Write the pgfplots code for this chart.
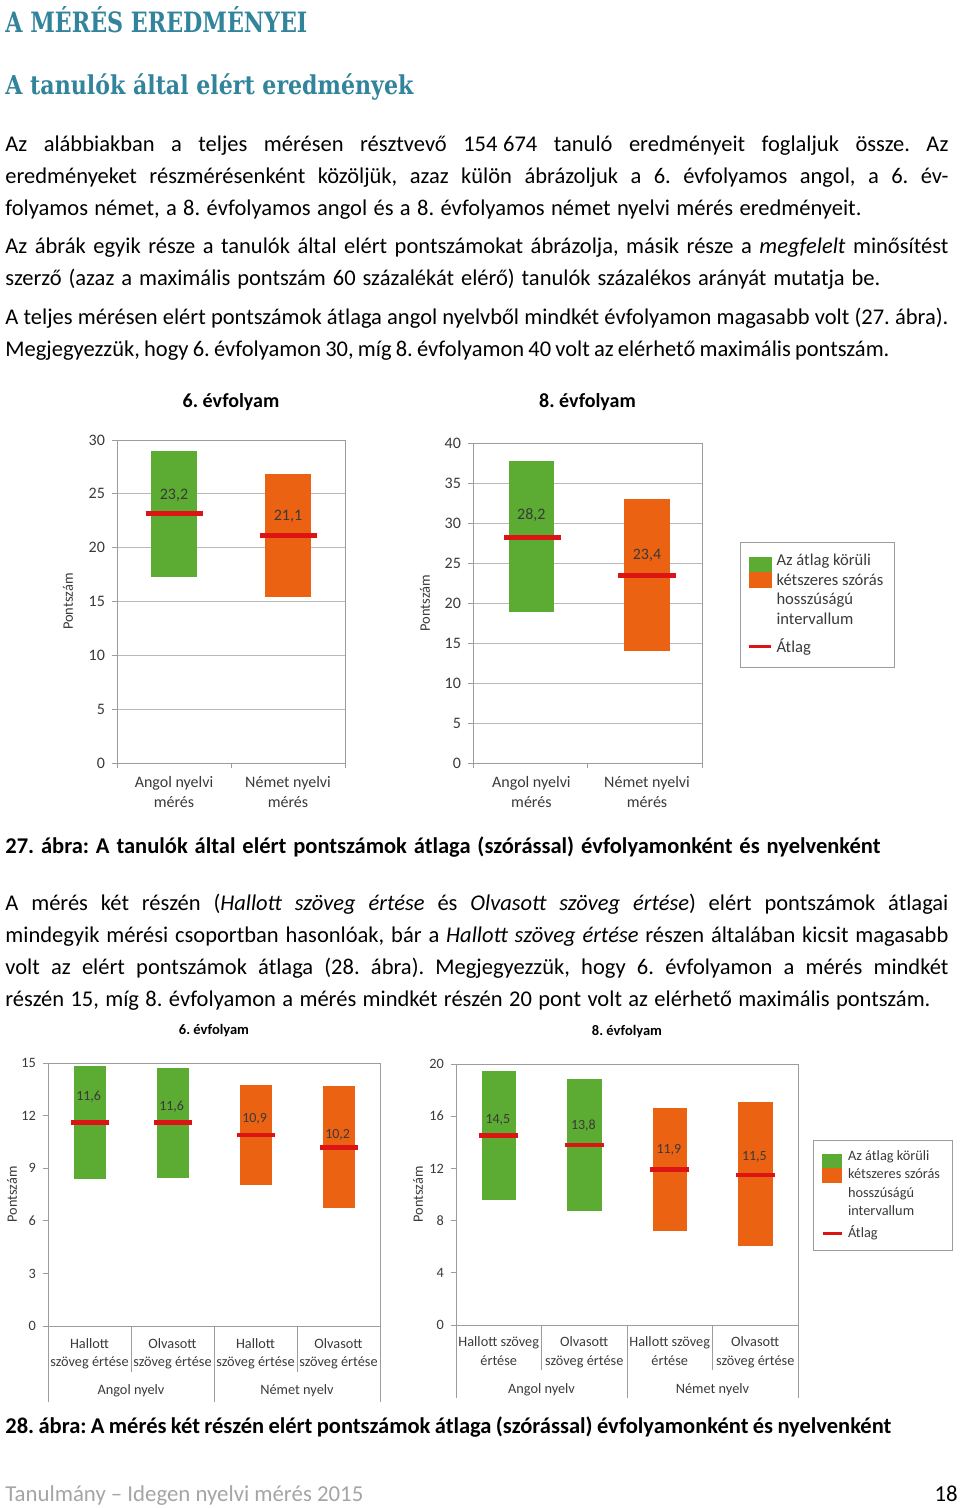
\documentclass[border=0pt]{standalone}
\usepackage{fontspec}
\setmainfont{Carlito}
\newfontfamily\headfont{DejaVu Serif}
\usepackage{graphicx}
\usepackage{pgfplots}
\pgfplotsset{compat=1.18}

\definecolor{barG}{HTML}{5CAB32}
\definecolor{barO}{HTML}{EB6212}
\definecolor{meanR}{HTML}{DD1414}
\definecolor{gridC}{HTML}{B9B9B9}
\definecolor{axisC}{HTML}{9C9C9C}
\definecolor{headC}{HTML}{31849B}
\definecolor{txt}{HTML}{3A3A3A}
\definecolor{footC}{HTML}{A5A5A5}

% sizes are given in pixels of the page (1px = 0.5pt)
\newcommand\fpx[1]{\fontsize{\fpeval{0.5*#1}}{\fpeval{0.6*#1}}\selectfont}
\newcommand\fpxb[2]{\fontsize{\fpeval{0.5*#1}}{\fpeval{0.5*#2}}\selectfont}

% one line of body text, spread to a given width (in px)
\newcommand\tline[4][]{\node[anchor=base west,inner sep=0pt,font=\fpx{22.5}#1] at (5,#2) {\makebox[\fpeval{0.5*#3}pt][s]{#4}};}
\newcommand\jline[2]{\tline{#1}{943}{#2}}

\tikzset{
  catlab/.style={font=#1, text=txt, align=center, anchor=north, inner sep=0pt},
  sep/.style={draw=axisC, line width=0.5pt},
}

\pgfplotsset{
  chart/.style={
    scale only axis, anchor=south west, clip=false,
    xmin=0, ymin=0,
    axis line style={draw=axisC, line width=0.5pt},
    grid style={draw=gridC, line width=0.5pt},
    tick align=outside, tick pos=left,
    major tick length=2.5pt,
    tick style={draw=axisC, line width=0.5pt},
    /pgf/number format/assume math mode=true,
    tick label style={text=txt},
    every axis title shift=0pt,
    title style={anchor=center},
    ylabel style={anchor=center, text=txt},
  },
  bar/.style={draw=none, fill=#1, forget plot},
  mean/.style={meanR, line width=2.4pt, forget plot},
  vals/.style={draw=none, forget plot, nodes near coords, point meta=explicit symbolic,
    every node near coord/.append style={anchor=center, text=txt, font=#1}},
}

\begin{document}
\frenchspacing
\begin{tikzpicture}
\fill[white] (0pt,0pt) rectangle (480pt,-754pt);

\begin{scope}[x=0.5pt,y=-0.5pt]
\node[anchor=base west,inner sep=0pt,text=headC] at (5,33)
  {\resizebox{151pt}{\height}{\headfont\bfseries\fpx{28}A MÉRÉS EREDMÉNYEI}};
\node[anchor=base west,inner sep=0pt,text=headC] at (5,95)
  {\resizebox{204pt}{\height}{\headfont\bfseries\fpx{26}A tanulók által elért eredmények}};

\jline{152}{Az alábbiakban a teljes mérésen résztvevő 154\kern0.25em674 tanuló eredményeit foglaljuk össze. Az}
\jline{184}{eredményeket részmérésenként közöljük, azaz külön ábrázoljuk a 6. évfolyamos angol, a 6. év-}
\tline{216}{856}{folyamos német, a 8. évfolyamos angol és a 8. évfolyamos német nyelvi mérés eredményeit.}
\jline{254}{Az ábrák egyik része a tanulók által elért pontszámokat ábrázolja, másik része a \textit{megfelelt} minősítést}
\tline{286}{875}{szerző (azaz a maximális pontszám 60 százalékát elérő) tanulók százalékos arányát mutatja be.}
\jline{325}{A teljes mérésen elért pontszámok átlaga angol nyelvből mindkét évfolyamon magasabb volt (27. ábra).}
\tline{357}{884}{Megjegyezzük, hogy 6. évfolyamon 30, míg 8. évfolyamon 40 volt az elérhető maximális pontszám.}

\tline[\bfseries]{853}{875}{27. ábra: A tanulók által elért pontszámok átlaga (szórással) évfolyamonként és nyelvenként}

\jline{910}{A mérés két részén (\textit{Hallott szöveg értése} és \textit{Olvasott szöveg értése}) elért pontszámok átlagai}
\jline{942}{mindegyik mérési csoportban hasonlóak, bár a \textit{Hallott szöveg értése} részen általában kicsit magasabb}
\jline{974}{volt az elért pontszámok átlaga (28. ábra). Megjegyezzük, hogy 6. évfolyamon a mérés mindkét}
\tline{1006}{925}{részén 15, míg 8. évfolyamon a mérés mindkét részén 20 pont volt az elérhető maximális pontszám.}

\tline[\bfseries]{1433}{886}{28. ábra: A mérés két részén elért pontszámok átlaga (szórással) évfolyamonként és nyelvenként}

\node[anchor=base west,inner sep=0pt,font=\fpx{22.8},text=footC] at (5,1501) {Tanulmány – Idegen nyelvi mérés 2015};
\node[anchor=base east,inner sep=0pt,font=\fpx{22.8}] at (958,1501) {18};
\end{scope}

% ---- 27. ábra, 6. évfolyam
\begin{axis}[chart, at={(58.5pt,-381.5pt)}, width=114pt, height=161.5pt,
  xmax=2, ymax=30, ytick={0,5,...,30}, xtick={0,1,2}, xticklabels={},
  ymajorgrids,
  yticklabel style={font=\fpx{16}},
  title={6. évfolyam}, title style={font=\fpx{20}\bfseries, at={(axis description cs:0.5,1.118)}},
  ylabel={Pontszám}, ylabel style={font=\fpx{14.5}, at={(axis description cs:-0.215,0.5)}}]
\addplot[bar=barG] coordinates {(0.3,17.3) (0.7,17.3) (0.7,29.0) (0.3,29.0)};
\addplot[bar=barO] coordinates {(1.3,15.4) (1.7,15.4) (1.7,26.8) (1.3,26.8)};
\addplot[mean] coordinates {(0.25,23.2) (0.75,23.2)};
\addplot[mean] coordinates {(1.25,21.1) (1.75,21.1)};
\addplot[vals={\fpx{16}}] coordinates {(0.5,24.9) [23,2] (1.5,22.95) [21,1]};
\node[catlab={\fpxb{16}{20}}] at ([yshift=-6.25pt]axis cs:0.5,0) {Angol nyelvi\\mérés};
\node[catlab={\fpxb{16}{20}}] at ([yshift=-6.25pt]axis cs:1.5,0) {Német nyelvi\\mérés};
\end{axis}

% ---- 27. ábra, 8. évfolyam
\begin{axis}[chart, at={(236.5pt,-381.5pt)}, width=114.5pt, height=160pt,
  xmax=2, ymax=40, ytick={0,5,...,40}, xtick={0,1,2}, xticklabels={},
  ymajorgrids,
  yticklabel style={font=\fpx{16}},
  title={8. évfolyam}, title style={font=\fpx{20}\bfseries, at={(axis description cs:0.5,1.128)}},
  ylabel={Pontszám}, ylabel style={font=\fpx{14.5}, at={(axis description cs:-0.21,0.5)}},
  legend style={at={(axis description cs:1.166,0.691)}, anchor=north west,
    draw=axisC, line width=0.5pt, fill=white, font=\fpxb{16.6}{19.5}, text=txt,
    inner xsep=3.5pt, inner ysep=4pt, row sep=1.5pt, column sep=0pt,
    cells={anchor=west, align=left, inner sep=0pt}}]
\addlegendimage{legend image code/.code={
  \fill[barG] (0pt,9pt) rectangle (11pt,16.5pt);
  \fill[barO] (0pt,1.5pt) rectangle (11pt,9pt);}}
\addlegendentry{Az átlag körüli\\kétszeres szórás\\hosszúságú\\intervallum}
\addlegendimage{legend image code/.code={\draw[meanR, line width=1.5pt] (0pt,0pt) -- (11pt,0pt);}}
\addlegendentry{Átlag}
\addplot[bar=barG] coordinates {(0.31,18.9) (0.71,18.9) (0.71,37.7) (0.31,37.7)};
\addplot[bar=barO] coordinates {(1.32,14.0) (1.72,14.0) (1.72,33.0) (1.32,33.0)};
\addplot[mean] coordinates {(0.27,28.2) (0.77,28.2)};
\addplot[mean] coordinates {(1.27,23.4) (1.77,23.4)};
\addplot[vals={\fpx{16}}] coordinates {(0.51,30.95) [28,2] (1.52,25.9) [23,4]};
\node[catlab={\fpxb{16}{20}}] at ([yshift=-6.25pt]axis cs:0.51,0) {Angol nyelvi\\mérés};
\node[catlab={\fpxb{16}{20}}] at ([yshift=-6.25pt]axis cs:1.52,0) {Német nyelvi\\mérés};
\end{axis}

% ---- 28. ábra, 6. évfolyam
\begin{axis}[chart, at={(24pt,-663pt)}, width=166pt, height=131.5pt,
  xmax=4, ymax=15, ytick={0,3,...,15}, xtick=\empty,
  yticklabel style={font=\fpx{14.3}},
  title={6. évfolyam}, title style={font=\fpx{14.5}\bfseries, at={(axis description cs:0.5,1.125)}},
  ylabel={Pontszám}, ylabel style={font=\fpx{14.3}, at={(axis description cs:-0.108,0.5)}}]
\addplot[bar=barG] coordinates {(0.31,8.40) (0.70,8.40) (0.70,14.81) (0.31,14.81)};
\addplot[bar=barG] coordinates {(1.31,8.42) (1.70,8.42) (1.70,14.73) (1.31,14.73)};
\addplot[bar=barO] coordinates {(2.31,8.06) (2.70,8.06) (2.70,13.73) (2.31,13.73)};
\addplot[bar=barO] coordinates {(3.31,6.75) (3.70,6.75) (3.70,13.67) (3.31,13.67)};
\addplot[mean] coordinates {(0.28,11.6) (0.73,11.6)};
\addplot[mean] coordinates {(1.28,11.6) (1.73,11.6)};
\addplot[mean] coordinates {(2.28,10.9) (2.73,10.9)};
\addplot[mean] coordinates {(3.28,10.2) (3.73,10.2)};
\addplot[vals={\fpx{14}}] coordinates {(0.49,13.06) [11,6] (1.49,12.49) [11,6] (2.49,11.79) [10,9] (3.49,10.91) [10,2]};
\draw[sep] (axis cs:1,0) -- ++(0pt,-23pt);
\draw[sep] (axis cs:3,0) -- ++(0pt,-23pt);
\draw[sep] (axis cs:0,0) -- ++(0pt,-38pt);
\draw[sep] (axis cs:2,0) -- ++(0pt,-38pt);
\draw[sep] (axis cs:4,0) -- ++(0pt,-38pt);
\node[catlab={\fpxb{14.3}{18}}] at ([yshift=-6.2pt]axis cs:0.5,0) {Hallott\\szöveg értése};
\node[catlab={\fpxb{14.3}{18}}] at ([yshift=-6.2pt]axis cs:1.5,0) {Olvasott\\szöveg értése};
\node[catlab={\fpxb{14.3}{18}}] at ([yshift=-6.2pt]axis cs:2.5,0) {Hallott\\szöveg értése};
\node[catlab={\fpxb{14.3}{18}}] at ([yshift=-6.2pt]axis cs:3.5,0) {Olvasott\\szöveg értése};
\node[font=\fpx{14.3}, text=txt, inner sep=0pt] at ([yshift=-32.5pt]axis cs:1,0) {Angol nyelv};
\node[font=\fpx{14.3}, text=txt, inner sep=0pt] at ([yshift=-32.5pt]axis cs:3,0) {Német nyelv};
\end{axis}

% ---- 28. ábra, 8. évfolyam
\begin{axis}[chart, at={(228pt,-662.5pt)}, width=171pt, height=130.5pt,
  xmax=4, ymax=20, ytick={0,4,...,20}, xtick=\empty,
  yticklabel style={font=\fpx{14.3}},
  title={8. évfolyam}, title style={font=\fpx{14.5}\bfseries, at={(axis description cs:0.5,1.126)}},
  ylabel={Pontszám}, ylabel style={font=\fpx{14.3}, at={(axis description cs:-0.111,0.5)}},
  legend style={at={(axis description cs:1.044,0.709)}, anchor=north west,
    draw=axisC, line width=0.5pt, fill=white, font=\fpxb{14.3}{18.5}, text=txt,
    inner xsep=4pt, inner ysep=3pt, row sep=-0.5pt, column sep=0.5pt,
    cells={anchor=west, align=left, inner sep=0pt}}]
\addlegendimage{legend image code/.code={
  \fill[barG] (0pt,8pt) rectangle (9.5pt,15pt);
  \fill[barO] (0pt,1pt) rectangle (9.5pt,8pt);}}
\addlegendentry{Az átlag körüli\\kétszeres szórás\\hosszúságú\\intervallum}
\addlegendimage{legend image code/.code={\draw[meanR, line width=1.25pt] (0pt,0pt) -- (9.5pt,0pt);}}
\addlegendentry{Átlag}
\addplot[bar=barG] coordinates {(0.30,9.56) (0.70,9.56) (0.70,19.44) (0.30,19.44)};
\addplot[bar=barG] coordinates {(1.30,8.77) (1.71,8.77) (1.71,18.82) (1.30,18.82)};
\addplot[bar=barO] coordinates {(2.30,7.23) (2.70,7.23) (2.70,16.60) (2.30,16.60)};
\addplot[bar=barO] coordinates {(3.30,6.05) (3.71,6.05) (3.71,17.08) (3.30,17.08)};
\addplot[mean] coordinates {(0.27,14.5) (0.73,14.5)};
\addplot[mean] coordinates {(1.27,13.8) (1.73,13.8)};
\addplot[mean] coordinates {(2.27,11.9) (2.73,11.9)};
\addplot[mean] coordinates {(3.27,11.5) (3.73,11.5)};
\addplot[vals={\fpx{14}}] coordinates {(0.49,15.7) [14,5] (1.49,15.3) [13,8] (2.49,13.4) [11,9] (3.49,12.9) [11,5]};
\draw[sep] (axis cs:1,0) -- ++(0pt,-22.5pt);
\draw[sep] (axis cs:3,0) -- ++(0pt,-22.5pt);
\draw[sep] (axis cs:0,0) -- ++(0pt,-36.5pt);
\draw[sep] (axis cs:2,0) -- ++(0pt,-36.5pt);
\draw[sep] (axis cs:4,0) -- ++(0pt,-36.5pt);
\node[catlab={\fpxb{14.3}{18.5}}] at ([yshift=-5.65pt]axis cs:0.5,0) {Hallott szöveg\\értése};
\node[catlab={\fpxb{14.3}{18.5}}] at ([yshift=-5.65pt]axis cs:1.5,0) {Olvasott\\szöveg értése};
\node[catlab={\fpxb{14.3}{18.5}}] at ([yshift=-5.65pt]axis cs:2.5,0) {Hallott szöveg\\értése};
\node[catlab={\fpxb{14.3}{18.5}}] at ([yshift=-5.65pt]axis cs:3.5,0) {Olvasott\\szöveg értése};
\node[font=\fpx{14.3}, text=txt, inner sep=0pt] at ([yshift=-32.5pt]axis cs:1,0) {Angol nyelv};
\node[font=\fpx{14.3}, text=txt, inner sep=0pt] at ([yshift=-32.5pt]axis cs:3,0) {Német nyelv};
\end{axis}
\end{tikzpicture}
\end{document}
